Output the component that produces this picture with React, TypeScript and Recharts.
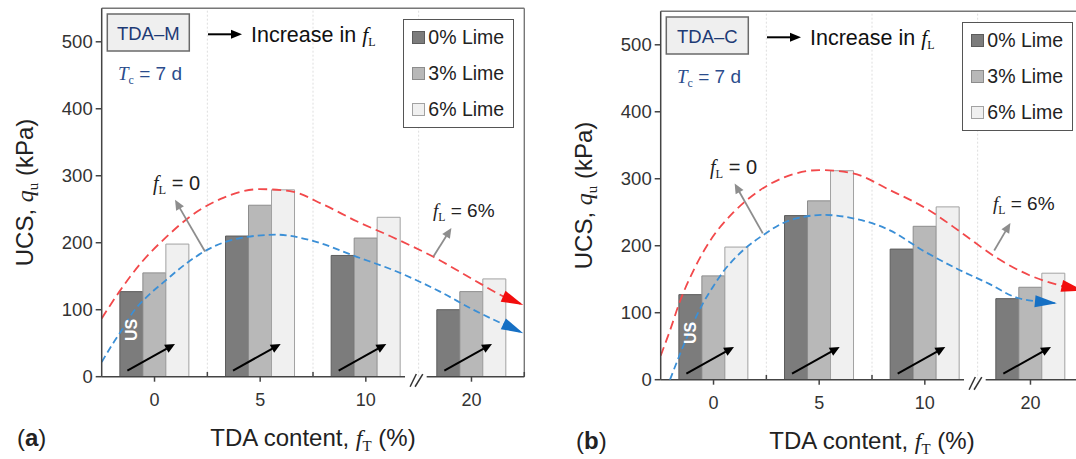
import React from 'react';
import { ComposedChart, Bar, Line, XAxis, YAxis, ReferenceLine, Legend } from 'recharts';

const SANS = '"Liberation Sans", Arial, Helvetica, sans-serif';
const SERIF = '"Liberation Serif", "Times New Roman", serif';

// ---------- data ----------
const categories = ['0', '5', '10', '20'];
const seriesNames = ['0% Lime', '3% Lime', '6% Lime'];
const yTicks = [0, 100, 200, 300, 400, 500];
const yMax = 550;

// (a) TDA-M
const tdaM_lime0 = [127, 210, 181, 100];
const tdaM_lime3 = [155, 256, 207, 127];
const tdaM_lime6 = [198, 279, 238, 146];
// (b) TDA-C
const tdaC_lime0 = [127, 245, 195, 121];
const tdaC_lime3 = [155, 267, 229, 138];
const tdaC_lime6 = [198, 312, 258, 159];

// trend curves: position along x axis (0 = left edge, 4 = right edge) and UCS (kPa)
const tdaM_redPos = [0, 0.167, 0.384, 0.615, 0.836, 1.151, 1.498, 1.782, 2.098, 2.414, 2.729, 3.139, 3.517, 3.801, 3.99];
const tdaM_redVal = [87, 127, 172, 209, 239, 267, 280, 277, 257, 232, 210, 179, 145, 120, 107];
const tdaM_bluePos = [0, 0.1, 0.204, 0.299, 0.42, 0.615, 0.8, 0.994, 1.309, 1.656, 1.972, 2.414, 2.792, 3.202, 3.517, 3.99];
const tdaM_blueVal = [22, 48, 73, 97, 118, 145, 169, 189, 207, 212, 204, 179, 157, 127, 100, 65];

const tdaC_redPos = [0, 0.087, 0.18, 0.31, 0.47, 0.69, 0.94, 1.22, 1.5, 1.82, 2.17, 2.54, 2.86, 3.17, 3.49, 3.77, 4.0];
const tdaC_redVal = [36, 73, 116, 163, 208, 250, 283, 305, 313, 308, 283, 253, 218, 183, 156, 141, 133];
const tdaC_bluePos = [0.088, 0.2, 0.3, 0.4, 0.5, 0.6, 0.7, 0.8, 0.97, 1.16, 1.35, 1.54, 1.85, 2.17, 2.48, 2.8, 3.11, 3.36, 3.55, 3.75];
const tdaC_blueVal = [0, 45, 82, 114, 140, 163, 181, 196, 216, 234, 243, 246, 240, 223, 193, 166, 143, 123, 117, 114];

// annotation arrows (axis position, UCS)
const tdaM_arrowL0 = [[0.978, 187], [0.694, 264]];
const tdaM_arrowL6 = [[3.14, 179.5], [3.31, 222]];
const tdaC_arrowL0 = [[0.966, 218.5], [0.70, 293]];
const tdaC_arrowL6 = [[3.157, 193], [3.31, 234]];
const limeArrowOffset = [[-0.257, 9], [0.194, 49]];

// ---------- helpers ----------
const makeRows = (a: number[], b: number[], c: number[]) =>
  categories.map((cat, i) => ({ cat, l0: a[i], l3: b[i], l6: c[i] }));
const makeCurve = (pos: number[], val: number[]) => pos.map((u, i) => ({ u, v: val[i] }));

const barStyles = [
  { fill: '#7c7c7c', stroke: '#5c5c5c' },
  { fill: '#b8b8b8', stroke: '#8c8c8c' },
  { fill: '#f0f0f0', stroke: '#a2a2a2' },
];

const arrowShape = (color: string, w: number, L: number, W: number) => (p: any) => {
  const { x1, y1, x2, y2 } = p;
  const ang = Math.atan2(y2 - y1, x2 - x1);
  const bx = x2 - L * Math.cos(ang);
  const by = y2 - L * Math.sin(ang);
  const nx = -Math.sin(ang) * W;
  const ny = Math.cos(ang) * W;
  return (
    <g>
      <line x1={x1} y1={y1} x2={bx + 0.5 * Math.cos(ang)} y2={by + 0.5 * Math.sin(ang)} stroke={color} strokeWidth={w} />
      <polygon points={`${x2},${y2} ${bx + nx},${by + ny} ${bx - nx},${by - ny}`} fill={color} />
    </g>
  );
};

const makeHead = (color: string, n: number) => (p: any) => {
  const { cx, cy, index, points } = p;
  if (index !== n - 1 || cx == null || cy == null) return <g key={`d${index}`} />;
  let ang = 0;
  if (points && points[index - 1]) {
    const q = points[index - 1];
    ang = Math.atan2(cy - q.y, cx - q.x);
  }
  const L = 22, W = 6;
  const bx = cx - L * Math.cos(ang);
  const by = cy - L * Math.sin(ang);
  const nx = -Math.sin(ang) * W;
  const ny = Math.cos(ang) * W;
  return <polygon key={`d${index}`} points={`${cx},${cy} ${bx + nx},${by + ny} ${bx - nx},${by - ny}`} fill={color} />;
};

const renderLegend = (props: any) => {
  const payload = (props && props.payload) || [];
  const items = seriesNames.map((name, i) => ({ name: (payload[i] && payload[i].value) || name, st: barStyles[i] }));
  return (
    <div style={{ position: 'relative', width: 111, height: 109, border: '1.5px solid #555', background: '#fff', boxSizing: 'border-box' }}>
      {items.map((it, i) => (
        <div key={it.name} style={{ position: 'absolute', left: 8, top: 5 + i * 36, height: 24, display: 'flex', alignItems: 'center', fontFamily: SANS, fontSize: 19.5, color: '#222', whiteSpace: 'nowrap' }}>
          <span style={{ display: 'inline-block', width: 11, height: 11, background: it.st.fill, border: `1px solid ${it.st.stroke}`, marginRight: 3 }} />
          {it.name}
        </div>
      ))}
    </div>
  );
};

function FL({ x, y, size, rest }: { x: number; y: number; size: number; rest: string }) {
  return (
    <text x={x} y={y} fontFamily={SANS} fontSize={size} fill="#222">
      <tspan fontFamily={SERIF} fontStyle="italic">f</tspan>
      <tspan fontFamily={SERIF} fontSize={size * 0.62} dy={size * 0.2}>L</tspan>
      <tspan dy={-size * 0.2}>{rest}</tspan>
    </text>
  );
}

type PanelProps = {
  ox: number; oy: number; rows: any[]; red: any[]; blue: any[];
  arrowL0: number[][]; arrowL6: number[][];
  tda: string; tag: string;
  fl0: [number, number]; fl6: [number, number];
};

function Panel({ ox, oy, rows, red, blue, arrowL0, arrowL6, tda, tag, fl0, fl6 }: PanelProps) {
  const axisColor = '#444';
  return (
    <div style={{ position: 'absolute', left: ox, top: oy, width: 540, height: 459 }}>
      <ComposedChart width={540} height={459} data={rows}
        margin={{ top: 8.3, right: 15.7, bottom: 52.3, left: 51.7 }}
        barCategoryGap="17.2%" barGap={0}>
        <XAxis xAxisId="cat" dataKey="cat" axisLine={false} interval={0} height={30}
          tickLine={{ stroke: axisColor, strokeWidth: 1.5 }} tickSize={5} tickMargin={12}
          tick={{ fontSize: 18, fill: '#333', fontFamily: SANS }} />
        <XAxis xAxisId="num" type="number" dataKey="u" domain={[0, 4]} hide allowDataOverflow />
        <YAxis domain={[0, yMax]} ticks={yTicks} width={50} allowDataOverflow
          axisLine={{ stroke: axisColor, strokeWidth: 1.5 }} tickLine={{ stroke: axisColor, strokeWidth: 1.5 }}
          tickSize={6} tickMargin={3} tick={{ fontSize: 18.5, fill: '#333', fontFamily: SANS }} />
        {[1, 2, 3].map((u) => (
          <ReferenceLine key={`g${u}`} xAxisId="num" x={u} stroke="#dedede" strokeDasharray="2 2" />
        ))}
        <ReferenceLine xAxisId="num" y={yMax} stroke="#777" strokeWidth={1.4} />
        <ReferenceLine xAxisId="num" x={4} stroke="#777" strokeWidth={1.4} />
        {['l0', 'l3', 'l6'].map((k, i) => (
          <Bar key={k} xAxisId="cat" dataKey={k} name={seriesNames[i]} fill={barStyles[i].fill}
            stroke={barStyles[i].stroke} strokeWidth={1} isAnimationActive={false} />
        ))}
        <ReferenceLine xAxisId="num" segment={[{ x: 0, y: 0 }, { x: 2.871, y: 0 }]} stroke={axisColor} strokeWidth={1.5} ifOverflow="visible" />
        <ReferenceLine xAxisId="num" segment={[{ x: 3.076, y: 0 }, { x: 4, y: 0 }]} stroke={axisColor} strokeWidth={1.5} ifOverflow="visible" />
        {[1, 2, 4].map((u) => (
          <ReferenceLine key={`t${u}`} xAxisId="num" segment={[{ x: u, y: 0 }, { x: u, y: 7 }]} stroke={axisColor} strokeWidth={1.5} ifOverflow="visible" />
        ))}
        <ReferenceLine xAxisId="num" segment={[{ x: 2.919, y: -15 }, { x: 2.978, y: 4 }]} stroke="#333" strokeWidth={1.5} ifOverflow="visible" />
        <ReferenceLine xAxisId="num" segment={[{ x: 2.966, y: -15 }, { x: 3.039, y: 4 }]} stroke="#333" strokeWidth={1.5} ifOverflow="visible" />
        <Line xAxisId="num" data={red} dataKey="v" type="monotone" stroke="#f2494b" strokeWidth={1.8}
          strokeDasharray="9 5" dot={makeHead('#f20d0d', red.length)} activeDot={false} isAnimationActive={false} legendType="none" />
        <Line xAxisId="num" data={blue} dataKey="v" type="monotone" stroke="#3b8fd6" strokeWidth={1.8}
          strokeDasharray="7 4" dot={makeHead('#1670c4', blue.length)} activeDot={false} isAnimationActive={false} legendType="none" />
        {categories.map((c, i) => (
          <ReferenceLine key={`a${c}`} xAxisId="num"
            segment={[{ x: i + 0.5 + limeArrowOffset[0][0], y: limeArrowOffset[0][1] }, { x: i + 0.5 + limeArrowOffset[1][0], y: limeArrowOffset[1][1] }]}
            shape={arrowShape('#000', 2, 10, 4.5)} ifOverflow="visible" />
        ))}
        <ReferenceLine xAxisId="num" segment={[{ x: arrowL0[0][0], y: arrowL0[0][1] }, { x: arrowL0[1][0], y: arrowL0[1][1] }]}
          shape={arrowShape('#8d8d8d', 1.8, 10, 4.5)} ifOverflow="visible" />
        <ReferenceLine xAxisId="num" segment={[{ x: arrowL6[0][0], y: arrowL6[0][1] }, { x: arrowL6[1][0], y: arrowL6[1][1] }]}
          shape={arrowShape('#8d8d8d', 1.8, 10, 4.5)} ifOverflow="visible" />
        <Legend layout="horizontal" verticalAlign="middle" align="center" content={renderLegend}
          wrapperStyle={{ left: 403.3, top: 19, width: 111, height: 109 }} />
      </ComposedChart>
      <svg width={540} height={459} style={{ position: 'absolute', left: 0, top: 0, pointerEvents: 'none', overflow: 'visible' }}>
        <rect x={107.3} y={14} width={82} height={37} fill="#efefef" stroke="#6a6a6a" strokeWidth={1.5} />
        <text x={148.3} y={39.7} textAnchor="middle" fontFamily={SANS} fontSize={18.5} fill="#1d3a75">{tda}</text>
        <line x1={208} y1={34.3} x2={232} y2={34.3} stroke="#000" strokeWidth={2} />
        <polygon points="242,34.3 231,29.8 231,38.8" fill="#000" />
        <text x={251} y={41.5} fontFamily={SANS} fontSize={21.5} fill="#111">
          Increase in{' '}
          <tspan fontFamily={SERIF} fontStyle="italic">f</tspan>
          <tspan fontFamily={SERIF} fontSize={12} dy={4}>L</tspan>
        </text>
        <text x={118} y={80} fontFamily={SANS} fontSize={19} fill="#2b4c8c">
          <tspan fontFamily={SERIF} fontStyle="italic">T</tspan>
          <tspan fontFamily={SERIF} fontSize={12} dy={4}>c</tspan>
          <tspan dy={-4}> = 7 d</tspan>
        </text>
        <FL x={fl0[0]} y={fl0[1]} size={20} rest=" = 0" />
        <FL x={fl6[0]} y={fl6[1]} size={19} rest=" = 6%" />
        <text transform="translate(137.3,330) rotate(-90)" textAnchor="middle" fontFamily={SANS} fontWeight="bold" fontSize={16} fill="#fff">US</text>
        <text transform="translate(33,192.5) rotate(-90)" textAnchor="middle" fontFamily={SANS} fontSize={24} fill="#222">
          UCS,{' '}
          <tspan fontFamily={SERIF} fontStyle="italic">q</tspan>
          <tspan fontFamily={SERIF} fontSize={15} dy={5}>u</tspan>
          <tspan dy={-5}> (kPa)</tspan>
        </text>
        <text x={313} y={446} textAnchor="middle" fontFamily={SANS} fontSize={24} fill="#222">
          TDA content,{' '}
          <tspan fontFamily={SERIF} fontStyle="italic">f</tspan>
          <tspan fontFamily={SERIF} fontSize={15} dy={5}>T</tspan>
          <tspan dy={-5}> (%)</tspan>
        </text>
        <text x={17} y={445.5} fontFamily={SANS} fontSize={24} fill="#222">
          (<tspan fontWeight="bold">{tag}</tspan>)
        </text>
      </svg>
    </div>
  );
}

export default function App() {
  return (
    <div style={{ position: 'absolute', left: 0, top: 0, width: 1076, height: 459, overflow: 'hidden', background: '#fff' }}>
      <Panel ox={0} oy={0}
        rows={makeRows(tdaM_lime0, tdaM_lime3, tdaM_lime6)}
        red={makeCurve(tdaM_redPos, tdaM_redVal)} blue={makeCurve(tdaM_bluePos, tdaM_blueVal)}
        arrowL0={tdaM_arrowL0} arrowL6={tdaM_arrowL6}
        tda="TDA–M" tag="a" fl0={[153, 190]} fl6={[433, 217]} />
      <Panel ox={559} oy={3}
        rows={makeRows(tdaC_lime0, tdaC_lime3, tdaC_lime6)}
        red={makeCurve(tdaC_redPos, tdaC_redVal)} blue={makeCurve(tdaC_bluePos, tdaC_blueVal)}
        arrowL0={tdaC_arrowL0} arrowL6={tdaC_arrowL6}
        tda="TDA–C" tag="b" fl0={[151, 171]} fl6={[434, 207]} />
    </div>
  );
}
